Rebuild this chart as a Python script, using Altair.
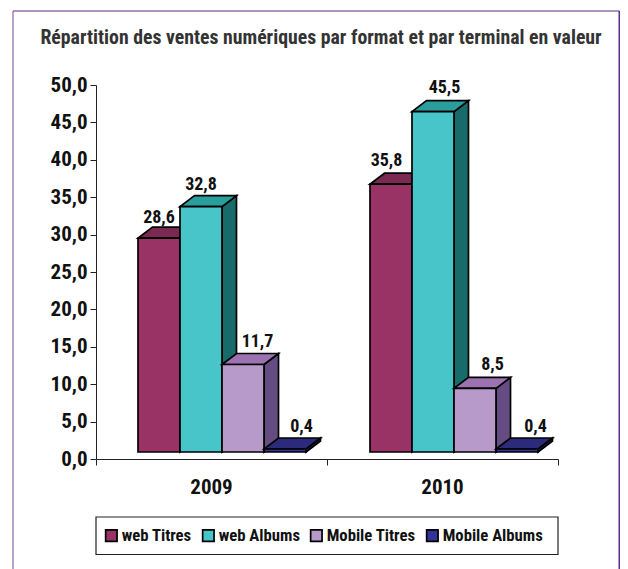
import altair as alt
import pandas as pd

# --- values ---
years = ["2009", "2010"]
series = ["web Titres", "web Albums", "Mobile Titres", "Mobile Albums"]
values_2009 = [28.6, 32.8, 11.7, 0.4]
values_2010 = [35.8, 45.5, 8.5, 0.4]
labels_2009 = ["28,6", "32,8", "11,7", "0,4"]
labels_2010 = ["35,8", "45,5", "8,5", "0,4"]
title_text = "Répartition des ventes numériques par format et par terminal en valeur"

# --- styles ---
front_colors = ["#993366", "#48C5C8", "#B89ACA", "#333399"]
top_colors = ["#7A2952", "#2A9D9D", "#9C72B0", "#2C2A7A"]
side_colors = ["#6B2347", "#176B6B", "#654C82", "#222266"]
FONT = "Roboto Condensed, DejaVu Sans Condensed, Roboto"

# --- layout (category units on x, value units on y) ---
PW, PH = 462, 374
PX = PW / 2.0
PY = PH / 50.0
bar_w = 42.0 / PX
depth_x = 14.5 / PX
depth_y = 11.0 / PY
floor = 7.0 / PY
group_start = [42.0 / PX, 274.0 / PX]
label_dx = [[-14.5, -14.5, 0, 2], [-19, -3, 3, 4]]
label_dy = [[4, 6, 6, 6], [7, 8, 7, 6]]
SW = 1.7

x_axis = alt.Axis(values=[0, 1, 2], labels=False, grid=False, domainColor="#222222",
                  tickColor="#222222", tickSize=6, title=None)
y_axis = alt.Axis(values=list(range(0, 51, 5)), grid=False, domainColor="#222222",
                  tickColor="#222222", tickSize=6, labelPadding=3, labelFont=FONT,
                  labelFontSize=21, labelFontWeight="bold", labelColor="#111111",
                  labelExpr="replace(format(datum.value,'.1f'),'.',',')", title=None)
x_scale = alt.Scale(domain=[0, 2], nice=False, zero=False)
y_scale = alt.Scale(domain=[0, 50], nice=False)
xq = lambda: alt.X("x:Q", scale=x_scale, axis=x_axis, title=None)
yq = lambda: alt.Y("y:Q", scale=y_scale, axis=y_axis, title=None)

layers = []
label_rows = []
for g, (vals, labs) in enumerate(zip([values_2009, values_2010], [labels_2009, labels_2010])):
    for i, v in enumerate(vals):
        x0 = group_start[g] + i * bar_w
        x1 = x0 + bar_w
        # side face
        side = pd.DataFrame({
            "x": [x1, x1 + depth_x],
            "y": [floor, floor + depth_y],
            "y2": [floor + v, floor + v + depth_y],
        })
        layers.append(alt.Chart(side).mark_area(
            orient="vertical", color=side_colors[i], stroke="black", strokeWidth=SW,
            line=False).encode(x=xq(), y=yq(), y2="y2:Q"))
        # top face
        t = floor + v
        top = pd.DataFrame({
            "x": [x0, x0 + depth_x, x1, x1 + depth_x],
            "y": [t, t, t, t + depth_y],
            "y2": [t, t + depth_y, t + depth_y, t + depth_y],
        })
        layers.append(alt.Chart(top).mark_area(
            orient="vertical", color=top_colors[i], stroke="black", strokeWidth=SW,
            line=False).encode(x=xq(), y=yq(), y2="y2:Q"))
        # front face
        front = pd.DataFrame({"x": [x0], "x2": [x1], "y": [floor], "y2": [t], "s": [series[i]]})
        layers.append(alt.Chart(front).mark_rect(stroke="black", strokeWidth=SW).encode(
            x=xq(), x2="x2:Q", y=yq(), y2="y2:Q",
            color=alt.Color("s:N", scale=alt.Scale(domain=series, range=front_colors), legend=alt.Legend(
                title=None, orient="none", legendX=7, legendY=442, columns=4, gridAlign="each",
                direction="horizontal", symbolType="square", symbolSize=130, symbolStrokeColor="black",
                symbolStrokeWidth=SW, labelFont=FONT, labelFontSize=16.7, labelFontWeight="bold",
                labelColor="#111111", labelOffset=2, columnPadding=7, padding=0,
                labelLimit=200)),
        ))
        label_rows.append({
            "x": x0 + bar_w / 2 + depth_x + label_dx[g][i] / PX,
            "y": t + depth_y + label_dy[g][i] / PY,
            "t": labs[i],
        })

# value labels
layers.append(alt.Chart(pd.DataFrame(label_rows)).mark_text(
    font=FONT, fontSize=18, fontWeight="bold", color="#111111", baseline="alphabetic", align="center"
).encode(x=xq(), y=yq(), text="t:N"))

# category labels
cats = pd.DataFrame({"x": [0.5, 1.5], "t": years})
layers.append(alt.Chart(cats).mark_text(
    font=FONT, fontSize=21, fontWeight="bold", color="#111111", baseline="alphabetic", align="center"
).encode(x=xq(), y=alt.value(409), text="t:N"))

# title, legend box and frame
frame = alt.Chart(pd.DataFrame({"a": [0]}))
layers.append(frame.mark_text(
    font=FONT, fontSize=19.8, fontWeight="bold", color="#333333", baseline="alphabetic", align="center",
    text=title_text).encode(x=alt.value(225), y=alt.value(-41)))
layers.append(frame.mark_rect(fill="white", stroke="#222222", strokeWidth=1.2).encode(
    x=alt.value(0), x2=alt.value(462), y=alt.value(432), y2=alt.value(469.5)))
for x_px, colr, w in [(-83, "#8A63A6", 1.2), (523.5, "#5E2D85", 2)]:
    layers.append(frame.mark_rule(color=colr, strokeWidth=w).encode(
        x=alt.value(x_px), y=alt.value(-74), y2=alt.value(490)))
layers.append(frame.mark_rule(color="#5E2D85", strokeWidth=1.2).encode(
    x=alt.value(-83), x2=alt.value(523.5), y=alt.value(-74)))

chart = alt.layer(*layers).properties(
    width=PW, height=PH,
    padding={"left": 88, "top": 77, "right": 62, "bottom": 110},
    autosize=alt.AutoSizeParams(type="none"),
    background="white",
).configure_view(stroke=None)

chart.save("out.html", embed_options={"renderer": "svg", "actions": False})
